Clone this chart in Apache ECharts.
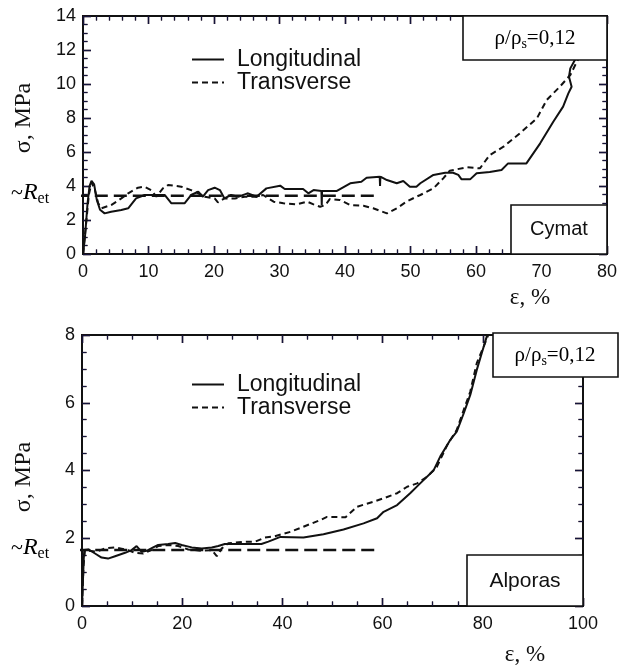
<!DOCTYPE html>
<html><head><meta charset="utf-8">
<script src="https://cdn.jsdelivr.net/npm/echarts@6/dist/echarts.min.js"></script>
<style>html,body{margin:0;padding:0;background:#fff}#c{width:620px;height:668px}</style>
</head><body><div id="c"></div>
<script>
// ---- Top panel: Cymat ----
const cymatXTicks = [0, 10, 20, 30, 40, 50, 60, 70, 80];
const cymatYTicks = [0, 2, 4, 6, 8, 10, 12, 14];
const cymatLongStrain = [0,0.3,0.7,1.0,1.3,1.7,2.1,2.6,3.3,4.3,5.85,6.9,8.1,9.4,12.5,13.5,15.5,16.5,17.6,18.3,19.1,20.1,20.9,21.6,22.6,23.7,24.7,25.2,26.5,28,30.1,30.8,33.6,34.4,35.2,36.4,36.45,36.5,38.7,40.8,42.5,43.3,45.3,45.35,45.4,46.4,47.9,48.9,49.9,50.9,51.5,53.5,55.3,56.5,57.3,57.8,59.1,60.1,62.1,63.9,64.9,67.7,69.8,71.8,73.3,74.1,74.6,74.2,74.4,75.1,75.5];
const cymatLongStress = [0,1.0,3.0,4.0,4.3,4.1,3.2,2.6,2.39,2.49,2.59,2.69,3.27,3.47,3.47,2.98,2.98,3.47,3.67,3.37,3.76,3.9,3.76,3.27,3.47,3.37,3.51,3.57,3.37,3.86,4.02,3.82,3.82,3.57,3.76,3.7,2.88,3.7,3.7,4.16,4.25,4.49,4.55,4.0,4.55,4.35,4.16,4.29,3.96,3.96,4.16,4.65,4.78,4.78,4.65,4.39,4.39,4.75,4.82,4.94,5.33,5.33,6.51,7.78,8.67,9.45,9.84,10.43,10.92,11.41,11.6];
const cymatTransStrain = [0,0.4,0.9,1.3,1.8,2.3,2.8,4.3,5.85,6.9,8.4,9.4,10.4,11.2,12.2,13,15,16.5,17.6,18.6,20.1,20.6,21.6,23.2,24.7,25,26.5,27.5,29.1,30.6,32.6,34.2,35.2,36.2,37,37.7,39.2,40.8,42.8,44.3,46.4,47.9,49.4,50.9,51.5,53.5,55,56,58.6,60.6,62.1,64.2,66.7,69.3,70.8,72.8,74.4,75.4,75.8];
const cymatTransStress = [0,1.5,3.5,4.2,3.8,3.0,2.69,2.88,3.27,3.57,3.9,3.96,3.76,3.37,3.86,4.06,3.96,3.76,3.57,3.37,3.27,3.04,3.27,3.27,3.37,3.27,3.37,3.47,3.08,2.98,2.92,3.08,2.92,2.78,2.88,3.24,3.18,2.88,2.84,2.69,2.39,2.69,3.08,3.37,3.47,3.86,4.45,4.9,5.1,5.04,5.82,6.31,7.1,7.98,9.06,9.84,10.53,11.31,11.6];
const cymatRet = 3.43;
const cymatRetSpan = [-1.1, 44.6];

// ---- Bottom panel: Alporas ----
const alporasXTicks = [0, 20, 40, 60, 80, 100];
const alporasYTicks = [0, 2, 4, 6, 8];
const alporasLongStrain = [0,0.2,0.35,0.46,1.3,2.6,3.9,5.2,6.6,8.6,9.9,10.9,11.9,12.9,14.2,15.2,17.2,18.6,19.9,21.9,23.9,25.9,27.2,28.5,31.2,34.2,35.8,37.2,39.6,44.2,48.2,52.2,56.2,58.9,60.2,62.9,65.5,67.5,70.2,71.5,73.5,74.8,76.2,77.5,78.8,79.8,80.8,81.0];
const alporasLongStress = [0,0.8,1.4,1.65,1.67,1.55,1.43,1.4,1.47,1.57,1.65,1.77,1.6,1.63,1.73,1.8,1.83,1.86,1.8,1.73,1.7,1.73,1.77,1.83,1.83,1.83,1.83,1.9,2.04,2.02,2.12,2.26,2.44,2.59,2.78,2.98,3.33,3.62,4.01,4.41,4.9,5.15,5.69,6.23,6.97,7.47,7.96,8.05];
const alporasTransStrain = [0,0.3,0.6,1.3,2.9,4.6,6.6,9.2,10.6,12.2,13.9,15.2,17.2,19.2,21.2,23.9,25.9,26.9,27.9,29.2,32.5,34.6,36.5,38.5,41.6,44.2,47.6,48.9,52.6,54.9,58.2,60.2,62.9,64.9,66.9,68.9,70.8,72.9,74.8,76.2,77.5,78.8,80.2,81.1];
const alporasTransStress = [0,1.2,1.65,1.63,1.6,1.7,1.73,1.65,1.57,1.55,1.65,1.77,1.8,1.77,1.67,1.63,1.65,1.47,1.7,1.85,1.9,1.9,2.02,2.06,2.19,2.34,2.54,2.63,2.62,2.93,3.08,3.18,3.33,3.52,3.62,3.82,4.1,4.75,5.2,5.79,6.33,7.17,7.67,8.0];
const alporasRet = 1.65;
const alporasRetSpan = [-1.15, 58.5];

const seriesNames = ['Longitudinal', 'Transverse'];

const zip = (xs, ys) => xs.map((x, i) => [x, ys[i]]);
const INK = '#111111';
const TICK_A = '#3a1414';
const TICK_B = '#14143a';
const SOLID = { color: INK, width: 2, type: 'solid' };
const DASH = { color: INK, width: 2, type: [6, 4] };
const RETSTYLE = { color: INK, width: 2.5, type: [13, 6] };
const SERIF = 'Liberation Serif, Times New Roman, serif';
const SANS = 'Liberation Sans, Arial, sans-serif';

function axis(grid, ticks, minorSplit, pos, role, showLabel, offset) {
  const isTicks = role === 'ticks';
  const tc = isTicks ? TICK_B : TICK_A;
  return {
    type: 'value', gridIndex: grid, position: pos, offset: offset || 0,
    min: ticks[0], max: ticks[ticks.length - 1], interval: ticks[1] - ticks[0],
    axisLine: { show: true, onZero: false, lineStyle: { color: INK, width: 2 } },
    axisTick: { show: true, inside: !isTicks, length: 8, lineStyle: { color: tc, width: 1.4 } },
    minorTick: { show: true, splitNumber: minorSplit, length: 4.5, lineStyle: { color: tc, width: 1.2 } },
    splitLine: { show: false }, minorSplitLine: { show: false },
    axisLabel: { show: !!showLabel, color: INK, fontFamily: SANS, fontSize: 18,
      margin: (pos === 'bottom' || pos === 'top') ? 9 : 7 }
  };
}

const G0 = { left: 83, right: 13, top: 16, height: 238, w: 524 };
const G1 = { left: 82, right: 37, top: 335, height: 271, w: 501 };

function xAxes(gi, g, ticks, minorSplit) {
  return [
    axis(gi, ticks, minorSplit, 'bottom', 'frame', true),
    axis(gi, ticks, minorSplit, 'top', 'frame', false),
    axis(gi, ticks, minorSplit, 'top', 'ticks', false, -g.height),
    axis(gi, ticks, minorSplit, 'bottom', 'ticks', false, -g.height)
  ];
}
function yAxes(gi, g, ticks, minorSplit) {
  return [
    axis(gi, ticks, minorSplit, 'left', 'frame', true),
    axis(gi, ticks, minorSplit, 'right', 'frame', false),
    axis(gi, ticks, minorSplit, 'right', 'ticks', false, -g.w),
    axis(gi, ticks, minorSplit, 'left', 'ticks', false, -g.w)
  ];
}

const chart = echarts.init(document.getElementById('c'), null, { renderer: 'canvas' });

function rhoText(cx, cy) {
  return { type: 'text', z: 110, x: cx, y: cy,
    style: { text: '{a|ρ/ρ}{s|s}{a|=0,12}', align: 'center', verticalAlign: 'middle',
      rich: { a: { fontFamily: SERIF, fontSize: 21, color: INK },
              s: { fontFamily: SERIF, fontSize: 14, color: INK, padding: [12, 0, 0, 0] } } } };
}
function box(x, y, w, h) {
  return { type: 'rect', z: 100, shape: { x: x, y: y, width: w, height: h },
    style: { fill: '#fff', stroke: INK, lineWidth: 1.6 } };
}
function plainText(x, y, txt, font, size, opts) {
  return Object.assign({ type: 'text', z: 110, x: x, y: y,
    style: { text: txt, font: size + 'px ' + font, fill: INK, align: 'center', verticalAlign: 'middle' } }, opts || {});
}
function retLabel(x, y) {
  return { type: 'text', z: 110, x: x, y: y,
    style: { text: '{t|~}{r|R}{s|et}', align: 'left', verticalAlign: 'middle',
      rich: { t: { fontFamily: SERIF, fontSize: 22, color: INK },
              r: { fontFamily: SERIF, fontStyle: 'italic', fontSize: 24, color: INK },
              s: { fontFamily: SERIF, fontSize: 16, color: INK, padding: [12, 0, 0, 0] } } } };
}

const legendBase = { data: seriesNames, orient: 'vertical', left: 186, itemGap: 0, itemWidth: 32, itemHeight: 14,
  itemStyle: { opacity: 0 }, selectedMode: false,
  textStyle: { fontFamily: SANS, fontSize: 23, color: INK, padding: [0, 0, 0, 8] } };

const option = {
  backgroundColor: '#fff',
  animation: false,
  grid: [
    { left: G0.left, right: G0.right, top: G0.top, height: G0.height },
    { left: G1.left, right: G1.right, top: G1.top, height: G1.height }
  ],
  xAxis: [].concat(xAxes(0, G0, cymatXTicks, 5), xAxes(1, G1, alporasXTicks, 4)),
  yAxis: [].concat(yAxes(0, G0, cymatYTicks, 4), yAxes(1, G1, alporasYTicks, 4)),
  legend: [
    Object.assign({}, legendBase, { top: 43 }),
    Object.assign({}, legendBase, { top: 368 })
  ],
  series: [
    { name: seriesNames[0], type: 'line', xAxisIndex: 0, yAxisIndex: 0, data: zip(cymatLongStrain, cymatLongStress),
      showSymbol: false, symbol: 'none', lineStyle: SOLID, itemStyle: { color: INK } },
    { name: seriesNames[1], type: 'line', xAxisIndex: 0, yAxisIndex: 0, data: zip(cymatTransStrain, cymatTransStress),
      showSymbol: false, symbol: 'none', lineStyle: DASH, itemStyle: { color: INK } },
    { name: 'Ret', type: 'line', xAxisIndex: 0, yAxisIndex: 0, clip: false, symbol: 'none',
      data: [[cymatRetSpan[0], cymatRet], [cymatRetSpan[1], cymatRet]], lineStyle: RETSTYLE, z: 3 },
    { name: seriesNames[0], type: 'line', xAxisIndex: 4, yAxisIndex: 4, data: zip(alporasLongStrain, alporasLongStress),
      showSymbol: false, symbol: 'none', lineStyle: SOLID, itemStyle: { color: INK } },
    { name: seriesNames[1], type: 'line', xAxisIndex: 4, yAxisIndex: 4, data: zip(alporasTransStrain, alporasTransStress),
      showSymbol: false, symbol: 'none', lineStyle: DASH, itemStyle: { color: INK } },
    { name: 'Ret', type: 'line', xAxisIndex: 4, yAxisIndex: 4, clip: false, symbol: 'none',
      data: [[alporasRetSpan[0], alporasRet], [alporasRetSpan[1], alporasRet]], lineStyle: RETSTYLE, z: 3 }
  ],
  graphic: [
    box(463, 16, 144, 44), rhoText(535, 38),
    box(511, 205, 96, 49), plainText(559, 229, 'Cymat', SANS, 20),
    box(493, 333, 125, 44), rhoText(555, 355),
    box(467, 555, 116, 51), plainText(525, 581, 'Alporas', SANS, 21),
    plainText(24, 118, 'σ, MPa', SERIF, 24, { rotation: Math.PI / 2 }),
    plainText(24, 477, 'σ, MPa', SERIF, 24, { rotation: Math.PI / 2 }),
    retLabel(11, 193),
    retLabel(11, 548),
    plainText(530, 298, 'ε, %', SERIF, 23),
    plainText(525, 655, 'ε, %', SERIF, 23)
  ]
};
chart.setOption(option);
</script>
</body></html>
